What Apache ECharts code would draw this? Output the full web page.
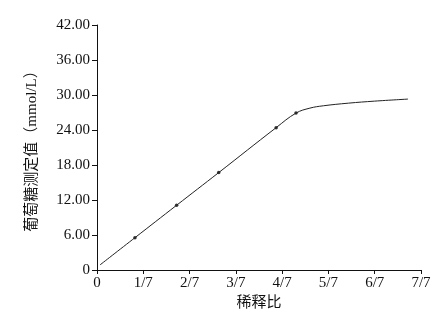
<!DOCTYPE html>
<html><head><meta charset="utf-8">
<script src="https://cdn.jsdelivr.net/npm/echarts@6/dist/echarts.min.js"></script>
<style>html,body{margin:0;padding:0;background:#fff}#c{width:436px;height:316px}</style>
</head><body><div id="c"></div>
<script>
// x in units of sevenths of dilution ratio
const curveX = [0.065, 0.82, 1.72, 2.63, 3.87, 4.30, 4.60, 4.89, 5.43, 6.00, 6.72];
const curveY = [0.87, 5.54, 11.1, 16.7, 24.4, 26.9, 27.75, 28.15, 28.6, 28.95, 29.3];
const pointX = [0.82, 1.72, 2.63, 3.87, 4.30];
const pointY = [5.54, 11.1, 16.7, 24.4, 26.9];
const xTickLabels = ['0','1/7','2/7','3/7','4/7','5/7','6/7','7/7'];
const yTitle = '葡萄糖测定值（mmol/L）';
const xTitle = '稀释比';

const font = '"Liberation Serif","Noto Sans CJK SC",serif';
const chart = echarts.init(document.getElementById('c'));
chart.setOption({
  animation: false,
  backgroundColor: '#fff',
  grid: {left: 97, right: 15, top: 25, bottom: 44.3, containLabel: false},
  xAxis: {
    type: 'value', min: 0, max: 7, interval: 1,
    name: xTitle, nameLocation: 'middle', nameGap: 26,
    nameTextStyle: {fontFamily: font, fontSize: 15, color: '#111'},
    axisLine: {show: true, lineStyle: {color: '#111', width: 1}},
    axisTick: {show: true, length: 4, lineStyle: {color: '#111'}},
    axisLabel: {margin: 6, fontFamily: font, fontSize: 15, color: '#111',
      formatter: v => xTickLabels[Math.round(v)]},
    splitLine: {show: false}
  },
  yAxis: {
    type: 'value', min: 0, max: 42, interval: 6,
    name: yTitle, nameLocation: 'middle', nameGap: 57,
    nameTextStyle: {fontFamily: font, fontSize: 15, color: '#111'},
    axisLine: {show: true, lineStyle: {color: '#111', width: 1}},
    axisTick: {show: true, length: 5, lineStyle: {color: '#111'}},
    axisLabel: {margin: 7, fontFamily: font, fontSize: 15, color: '#111',
      formatter: v => v === 0 ? '0' : v.toFixed(2)},
    splitLine: {show: false}
  },
  series: [
    {type: 'line', data: curveX.map((x, i) => [x, curveY[i]]), smooth: 0.4,
     showSymbol: false, lineStyle: {color: '#222', width: 1}},
    {type: 'scatter', data: pointX.map((x, i) => [x, pointY[i]]), symbolSize: 3.5,
     itemStyle: {color: '#000'}}
  ]
});
</script></body></html>
